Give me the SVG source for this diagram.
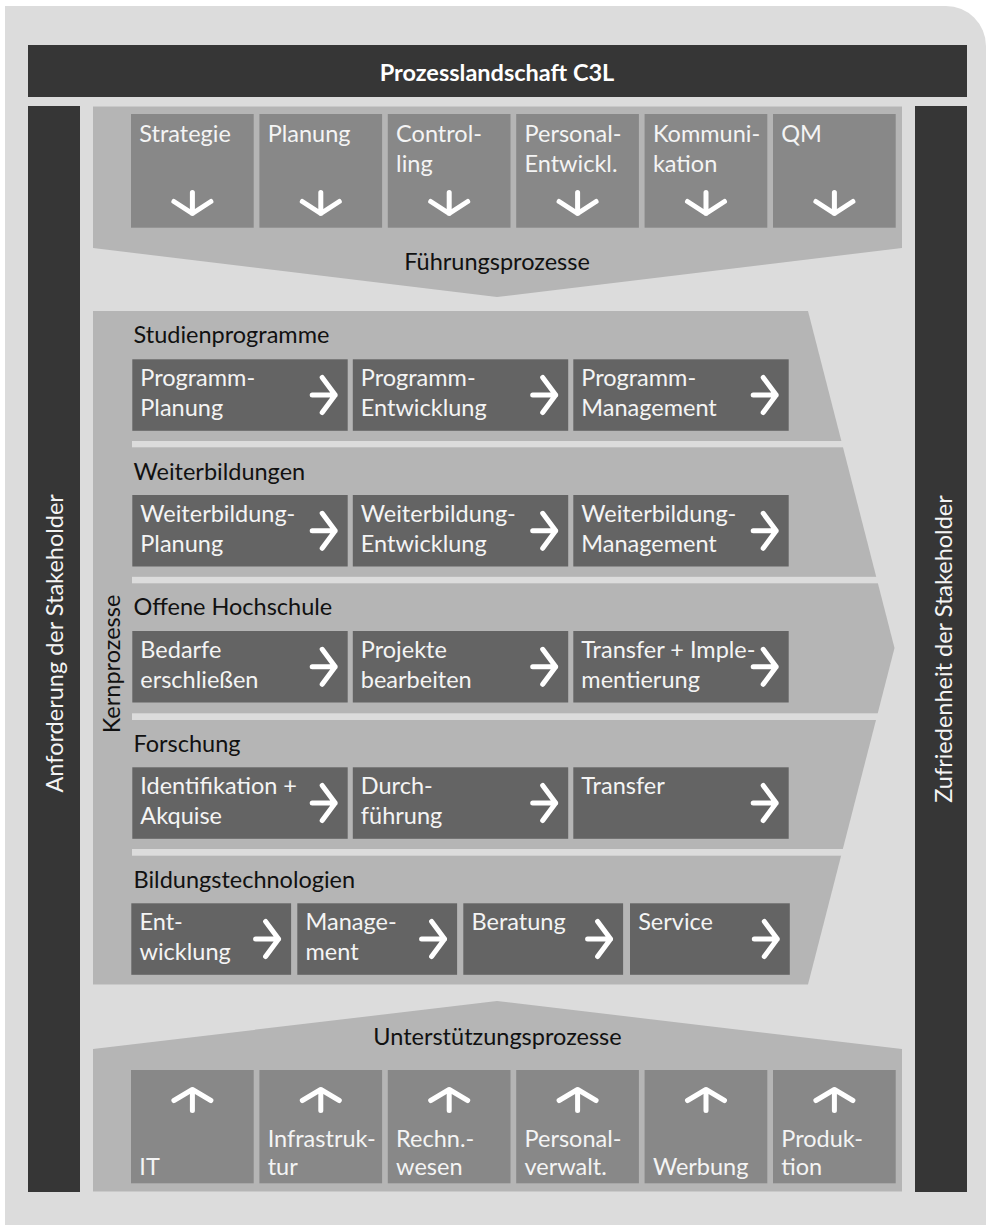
<svg xmlns="http://www.w3.org/2000/svg" width="986" height="1225" viewBox="0 0 986 1225">
<style>
  text { font-family: Lato, "Open Sans", "Liberation Sans", sans-serif; font-size: 23.5px; }
  .bg { fill: #dcdcdc; }
  .bar { fill: #363636; }
  .band { fill: #b5b5b5; }
  .lead { fill: #888888; }
  .core { fill: #646464; }
  .gap { fill: #dcdcdc; }
  .wt { fill: #f4f4f4; }
  .bk { fill: #111111; }
  .title { font-weight: bold; fill: #ffffff; }
  .arr { fill: none; stroke: #ffffff; stroke-width: 5; stroke-linecap: round; stroke-linejoin: round; }
</style>
<defs>
  <path id="ar" class="arr" d="M-23,0H0M-13,-17.5L0,0L-13,17.5"/>
  <path id="ad" class="arr" d="M0,-21V0M-18.5,-12L0,0L18.5,-12"/>
  <path id="au" class="arr" d="M0,21V0M-18.5,11L0,0L18.5,11"/>
</defs>

<!-- canvas -->
<path class="bg" d="M5,6H946A40,40 0 0 1 986,46V1225H5Z"/>

<!-- header -->
<g id="header">
  <rect class="bar" x="28" y="45" width="939" height="52"/>
  <text class="title" x="497" y="81" text-anchor="middle">Prozesslandschaft C3L</text>
</g>

<!-- stakeholder bars -->
<g id="stakeholder-in">
  <rect class="bar" x="28" y="106" width="52" height="1086"/>
  <text class="wt" transform="translate(63.3,643.3) rotate(-90)" text-anchor="middle">Anforderung der Stakeholder</text>
</g>
<g id="stakeholder-out">
  <rect class="bar" x="915" y="106" width="52" height="1086"/>
  <text class="wt" transform="translate(951.7,649) rotate(-90)" text-anchor="middle">Zufriedenheit der Stakeholder</text>
</g>

<!-- management processes -->
<g id="fuehrung">
  <polygon class="band" points="93,106.5 902,106.5 902,248 497,297 93,248"/>
  <text class="bk" x="497" y="269.5" text-anchor="middle">Führungsprozesse</text>
</g>
<g id="f-strategie"><rect class="lead" x="131" y="114" width="122.7" height="113.7"/>
  <text class="wt" x="139.3" y="141.7">Strategie</text></g>
<g id="f-planung"><rect class="lead" x="259.4" y="114" width="122.7" height="113.7"/>
  <text class="wt" x="267.7" y="141.7">Planung</text></g>
<g id="f-controlling"><rect class="lead" x="387.8" y="114" width="122.7" height="113.7"/>
  <text class="wt" x="396.1" y="141.7">Control-</text><text class="wt" x="396.1" y="171.7">ling</text></g>
<g id="f-personal"><rect class="lead" x="516.2" y="114" width="122.7" height="113.7"/>
  <text class="wt" x="524.5" y="141.7">Personal-</text><text class="wt" x="524.5" y="171.7">Entwickl.</text></g>
<g id="f-kommunikation"><rect class="lead" x="644.6" y="114" width="122.7" height="113.7"/>
  <text class="wt" x="652.9" y="141.7">Kommuni-</text><text class="wt" x="652.9" y="171.7">kation</text></g>
<g id="f-qm"><rect class="lead" x="773" y="114" width="122.7" height="113.7"/>
  <text class="wt" x="781.3" y="141.7">QM</text></g>

<!-- core processes -->
<g id="kern">
  <polygon class="band" points="93,311 808,311 894.5,648 808,984.5 93,984.5"/>
  <rect class="gap" x="132" y="441" width="768" height="6.3"/>
  <rect class="gap" x="132" y="576.8" width="768" height="6.5"/>
  <rect class="gap" x="132" y="713.3" width="768" height="6.7"/>
  <rect class="gap" x="132" y="849" width="768" height="6.7"/>
  <text class="bk" transform="translate(120,664) rotate(-90)" text-anchor="middle">Kernprozesse</text>
  <text class="bk" x="133.5" y="343.3">Studienprogramme</text>
  <text class="bk" x="133.5" y="479.5">Weiterbildungen</text>
  <text class="bk" x="133.5" y="615.3">Offene Hochschule</text>
  <text class="bk" x="133.5" y="751.7">Forschung</text>
  <text class="bk" x="133.5" y="887.5">Bildungstechnologien</text>
</g>

<g id="sp-planung"><rect class="core" x="132.3" y="359.3" width="215.4" height="71.5"/>
  <text class="wt" x="140.3" y="386.3">Programm-</text><text class="wt" x="140.3" y="416.3">Planung</text></g>
<g id="sp-entwicklung"><rect class="core" x="352.8" y="359.3" width="215.4" height="71.5"/>
  <text class="wt" x="360.8" y="386.3">Programm-</text><text class="wt" x="360.8" y="416.3">Entwicklung</text></g>
<g id="sp-management"><rect class="core" x="573.3" y="359.3" width="215.4" height="71.5"/>
  <text class="wt" x="581.3" y="386.3">Programm-</text><text class="wt" x="581.3" y="416.3">Management</text></g>

<g id="wb-planung"><rect class="core" x="132.3" y="495" width="215.4" height="71.5"/>
  <text class="wt" x="140.3" y="522">Weiterbildung-</text><text class="wt" x="140.3" y="552">Planung</text></g>
<g id="wb-entwicklung"><rect class="core" x="352.8" y="495" width="215.4" height="71.5"/>
  <text class="wt" x="360.8" y="522">Weiterbildung-</text><text class="wt" x="360.8" y="552">Entwicklung</text></g>
<g id="wb-management"><rect class="core" x="573.3" y="495" width="215.4" height="71.5"/>
  <text class="wt" x="581.3" y="522">Weiterbildung-</text><text class="wt" x="581.3" y="552">Management</text></g>

<g id="oh-bedarfe"><rect class="core" x="132.3" y="631" width="215.4" height="71.5"/>
  <text class="wt" x="140.3" y="658">Bedarfe</text><text class="wt" x="140.3" y="688">erschließen</text></g>
<g id="oh-projekte"><rect class="core" x="352.8" y="631" width="215.4" height="71.5"/>
  <text class="wt" x="360.8" y="658">Projekte</text><text class="wt" x="360.8" y="688">bearbeiten</text></g>
<g id="oh-transfer"><rect class="core" x="573.3" y="631" width="215.4" height="71.5"/>
  <text class="wt" x="581.3" y="658">Transfer + Imple-</text><text class="wt" x="581.3" y="688">mentierung</text></g>

<g id="fo-akquise"><rect class="core" x="132.3" y="767.3" width="215.4" height="71.5"/>
  <text class="wt" x="140.3" y="794.3">Identifikation +</text><text class="wt" x="140.3" y="824.3">Akquise</text></g>
<g id="fo-durchfuehrung"><rect class="core" x="352.8" y="767.3" width="215.4" height="71.5"/>
  <text class="wt" x="360.8" y="794.3">Durch-</text><text class="wt" x="360.8" y="824.3">führung</text></g>
<g id="fo-transfer"><rect class="core" x="573.3" y="767.3" width="215.4" height="71.5"/>
  <text class="wt" x="581.3" y="794.3">Transfer</text></g>

<g id="bt-entwicklung"><rect class="core" x="131.3" y="903.3" width="159.8" height="71.5"/>
  <text class="wt" x="139.5" y="930.3">Ent-</text><text class="wt" x="139.5" y="960.3">wicklung</text></g>
<g id="bt-management"><rect class="core" x="297.3" y="903.3" width="159.8" height="71.5"/>
  <text class="wt" x="305.5" y="930.3">Manage-</text><text class="wt" x="305.5" y="960.3">ment</text></g>
<g id="bt-beratung"><rect class="core" x="463.3" y="903.3" width="159.8" height="71.5"/>
  <text class="wt" x="471.5" y="930.3">Beratung</text></g>
<g id="bt-service"><rect class="core" x="630" y="903.3" width="159.8" height="71.5"/>
  <text class="wt" x="638.2" y="930.3">Service</text></g>

<!-- support processes -->
<g id="unterstuetzung">
  <polygon class="band" points="93,1049 497,1001 902,1049 902,1191.5 93,1191.5"/>
  <text class="bk" x="497.5" y="1045" text-anchor="middle">Unterstützungsprozesse</text>
</g>
<g id="u-it"><rect class="lead" x="131" y="1070" width="122.7" height="113.3"/>
  <text class="wt" x="139.3" y="1175">IT</text></g>
<g id="u-infrastruktur"><rect class="lead" x="259.4" y="1070" width="122.7" height="113.3"/>
  <text class="wt" x="267.7" y="1146.7">Infrastruk-</text><text class="wt" x="267.7" y="1175">tur</text></g>
<g id="u-rechnungswesen"><rect class="lead" x="387.8" y="1070" width="122.7" height="113.3"/>
  <text class="wt" x="396.1" y="1146.7">Rechn.-</text><text class="wt" x="396.1" y="1175">wesen</text></g>
<g id="u-personal"><rect class="lead" x="516.2" y="1070" width="122.7" height="113.3"/>
  <text class="wt" x="524.5" y="1146.7">Personal-</text><text class="wt" x="524.5" y="1175">verwalt.</text></g>
<g id="u-werbung"><rect class="lead" x="644.6" y="1070" width="122.7" height="113.3"/>
  <text class="wt" x="652.9" y="1175">Werbung</text></g>
<g id="u-produktion"><rect class="lead" x="773" y="1070" width="122.7" height="113.3"/>
  <text class="wt" x="781.3" y="1146.7">Produk-</text><text class="wt" x="781.3" y="1175">tion</text></g>

<!-- flow arrows -->
<g id="connectors">
  <use href="#ad" x="192.4" y="213.5"/>
  <use href="#ad" x="320.8" y="213.5"/>
  <use href="#ad" x="449.2" y="213.5"/>
  <use href="#ad" x="577.6" y="213.5"/>
  <use href="#ad" x="706" y="213.5"/>
  <use href="#ad" x="834.4" y="213.5"/>

  <use href="#ar" x="335.2" y="395"/>
  <use href="#ar" x="555.7" y="395"/>
  <use href="#ar" x="776.2" y="395"/>
  <use href="#ar" x="335.2" y="530.8"/>
  <use href="#ar" x="555.7" y="530.8"/>
  <use href="#ar" x="776.2" y="530.8"/>
  <use href="#ar" x="335.2" y="666.8"/>
  <use href="#ar" x="555.7" y="666.8"/>
  <use href="#ar" x="776.2" y="666.8"/>
  <use href="#ar" x="335.2" y="803"/>
  <use href="#ar" x="555.7" y="803"/>
  <use href="#ar" x="776.2" y="803"/>
  <use href="#ar" x="278.6" y="939"/>
  <use href="#ar" x="444.6" y="939"/>
  <use href="#ar" x="610.6" y="939"/>
  <use href="#ar" x="777.3" y="939"/>

  <use href="#au" x="192.4" y="1089.5"/>
  <use href="#au" x="320.8" y="1089.5"/>
  <use href="#au" x="449.2" y="1089.5"/>
  <use href="#au" x="577.6" y="1089.5"/>
  <use href="#au" x="706" y="1089.5"/>
  <use href="#au" x="834.4" y="1089.5"/>
</g>
</svg>
